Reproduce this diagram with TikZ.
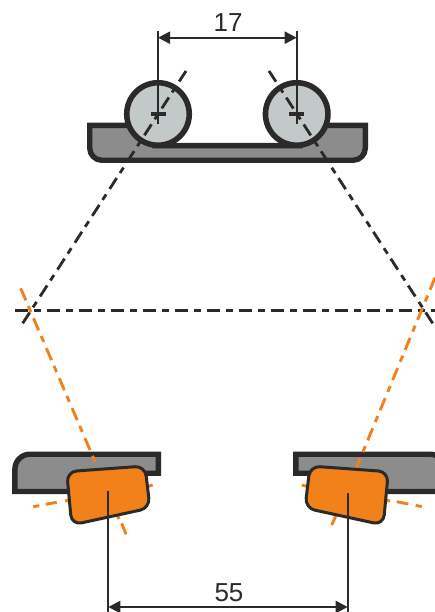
\documentclass[tikz,border=0pt]{standalone}
\usepackage{fontspec}
\setmainfont{Liberation Sans}
\usetikzlibrary{arrows.meta}
\definecolor{ink}{HTML}{2B2A29}
\definecolor{traygray}{HTML}{8C8C8C}
\definecolor{rollgray}{HTML}{C3C8C8}
\definecolor{lamp}{HTML}{F28119}
\tikzset{
  tray/.style={draw=ink,fill=traygray,line width=5.4pt,line join=miter},
  roll/.style={circle,draw=ink,fill=rollgray,line width=5.6pt,minimum size=62.5pt,inner sep=0pt},
  lampbody/.style={draw=ink,fill=lamp,line width=3pt,rounded corners=10pt},
  blackaxis/.style={draw=ink,line width=2.8pt,dash pattern=on 13pt off 6pt on 6.5pt off 6.5pt},
  orangeaxis/.style={draw=lamp,line width=2.9pt,dash pattern=on 13pt off 6.3pt on 6.5pt off 6.8pt},
  orangestub/.style={draw=lamp,line width=2.9pt},
  dimline/.style={draw=ink,line width=2.2pt},
  dimarrow/.style={draw=ink,line width=2.2pt,{Stealth[length=12pt,width=12pt,inset=0pt]}-{Stealth[length=12pt,width=12pt,inset=0pt]}},
  plus/.style={draw=ink,line width=3.8pt},
  dimtext/.style={font=\fontsize{26}{26}\selectfont,text=ink,inner sep=0pt}
}
\begin{document}
\begin{tikzpicture}[x=1pt,y=-1pt]
\useasboundingbox (0,0) rectangle (435,612);
% coordinates
\coordinate (cl) at (158,114);
\coordinate (cr) at (296.7,114);
\coordinate (t1) at (158,31);
\coordinate (t1e) at (158,124);
\coordinate (t2) at (296.7,31);
\coordinate (t2e) at (296.7,124);
\coordinate (a1) at (158,37.7);
\coordinate (a2) at (296.7,37.7);
\coordinate (b1) at (108.3,490.7);
\coordinate (b1e) at (108.3,612);
\coordinate (b2) at (347.7,493);
\coordinate (b2e) at (347.7,612);
\coordinate (a3) at (108.3,607);
\coordinate (a4) at (347.7,607);
% top tray
\draw[tray] (89.7,125.4) -- (89.7,148) arc[start angle=180,end angle=90,x radius=12.3pt,y radius=-12.3pt] -- (353,160.3)
  arc[start angle=90,end angle=0,x radius=12.3pt,y radius=-12.3pt] -- (365.3,125.4) -- (300,125.4) -- (300,145.7) -- (155,145.7) -- (155,125.4) -- cycle;
% rollers
\node[roll] (rl) at (cl) {};
\node[roll] (rr) at (cr) {};
% bottom trays
\draw[tray] (158.4,454.2) -- (158.4,473.2) -- (100,473.2) -- (100,491.5) -- (14.9,491.5) -- (14.9,469.2) arc[start angle=180,end angle=270,x radius=15pt,y radius=-15pt] -- cycle;
\draw[tray] (295.9,454.2) -- (295.9,473.2) -- (360,473.2) -- (360,491.5) -- (445,491.5) -- (445,469.2) arc[start angle=0,end angle=-90,x radius=15pt,y radius=-15pt] -- cycle;
% axes
\draw[blackaxis] (22.7,323.3) -- (186,71);
\draw[blackaxis] (432.7,323.3) -- (269,71);
\draw[blackaxis] (15,310.7) -- (435,310.7);
\draw[orangeaxis] (20.7,288.3) -- (101,475.6);
\draw[orangeaxis] (435,277.7) -- (355,471);
% stubs of the lamp axes
\draw[orangestub] (117,514) -- (119,519) (121.7,523.3) -- (126,534.3);
\draw[orangestub] (331.7,525) -- (336.7,514);
\draw[orangestub] (33.3,506.7) -- (39.3,505.7) (45.7,504.3) -- (56.7,502.3) (65,501) -- (70,500) (146.7,486.7) -- (152.7,485);
\draw[orangestub] (301.7,485) -- (308.3,486.7) (385,500) -- (390,501) (396.7,501.7) -- (408.3,504) (415.7,505.3) -- (421.7,506.7);
% lamps
\draw[lampbody] (66.7,471.7) -- (145,466) -- (150,508) -- (71.7,525) -- cycle;
\draw[lampbody] (310,466) -- (388.3,471.7) -- (383.3,525) -- (305,508) -- cycle;
% crosses
\draw[plus] (151,114) -- (166,114);
\draw[plus] (289.2,114) -- (304.2,114);
% dimensions
\draw[dimline] (t1) -- (t1e);
\draw[dimline] (t2) -- (t2e);
\draw[dimarrow] (a1) -- (a2);
\draw[dimline] (b1) -- (b1e);
\draw[dimline] (b2) -- (b2e);
\draw[dimarrow] (a3) -- (a4);
\node[dimtext] (d17) at (228,23) {17};
\node[dimtext] (d55) at (229,593) {55};
\end{tikzpicture}
\end{document}
